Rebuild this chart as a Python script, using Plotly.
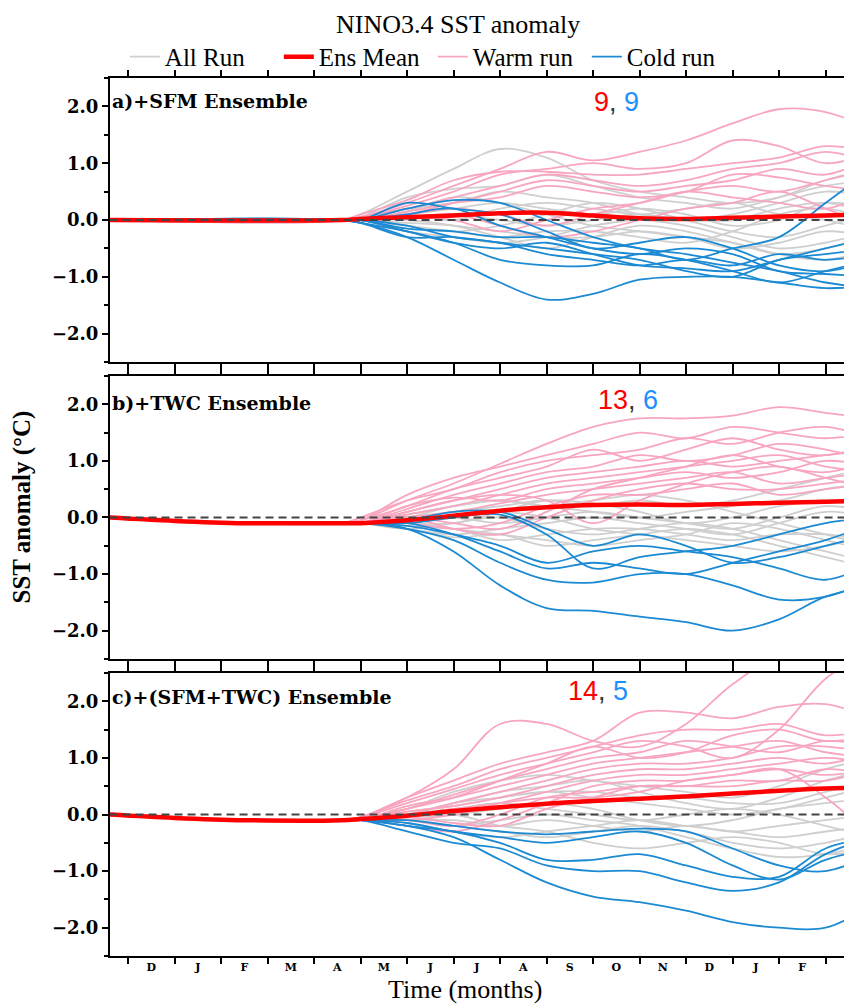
import plotly.graph_objects as go

# ---------------- data ----------------
MONTHS = ["D", "J", "F", "M", "A", "M", "J", "J", "A", "S", "O", "N", "D", "J", "F"]
MONTH_POS = [0.5, 1.5, 2.5, 3.5, 4.5, 5.5, 6.5, 7.5, 8.5, 9.5, 10.5, 11.5, 12.5, 13.5, 14.5]
MONTH_EDGES = list(range(0, 16))

X_PRE_A = [-0.4, 4.6]
PRE_A = [0.0, 0.0]
X_PRE_BC = [-0.4, 1.0, 2.5, 4.6]
PRE_BC = [0.0, -0.06, -0.1, -0.1]
X_RUN = [5, 6, 7, 8, 9, 10, 11, 12, 13, 14, 15, 16]

# panel a) +SFM Ensemble
WARM_A = [
    [0.05, 0.3, 0.6, 0.9, 1.2, 1.05, 1.2, 1.4, 1.7, 1.95, 1.9, 1.6],
    [0.05, 0.25, 0.5, 0.8, 0.9, 1.0, 0.9, 1.0, 1.4, 1.3, 1.0, 1.2],
    [0.1, 0.35, 0.7, 0.85, 0.85, 0.8, 0.8, 0.9, 1.0, 1.1, 1.3, 1.2],
    [0.05, 0.2, 0.4, 0.6, 0.8, 0.7, 0.6, 0.7, 0.9, 1.0, 1.2, 1.0],
    [0.0, 0.1, 0.3, 0.5, 0.7, 0.6, 0.5, 0.6, 0.7, 0.9, 0.8, 1.1],
    [0.0, 0.15, 0.3, 0.4, 0.6, 0.5, 0.4, 0.5, 0.8, 0.75, 0.6, 0.5],
    [0.0, 0.05, 0.0, -0.2, 0.0, 0.2, 0.3, 0.5, 0.6, 0.5, 0.7, 0.9],
    [0.0, 0.1, 0.2, 0.1, -0.1, 0.1, 0.3, 0.5, 0.4, 0.3, 0.2, 0.5],
    [0.0, 0.05, 0.1, -0.1, -0.3, -0.2, 0.0, 0.2, 0.3, 0.5, 0.2, -0.1],
]
COLD_A = [
    [-0.05, -0.3, -0.7, -1.1, -1.4, -1.3, -1.05, -1.0, -1.0, -1.1, -1.2, -1.15],
    [-0.05, -0.2, -0.4, -0.7, -0.8, -0.8, -0.6, -0.7, -0.9, -1.1, -0.9, -0.7],
    [0.0, 0.2, 0.35, 0.3, 0.0, -0.3, -0.5, -0.6, -0.75, -0.9, -1.1, -1.2],
    [0.0, 0.3, 0.2, 0.1, -0.2, -0.5, -0.4, -0.3, -0.5, -0.8, -0.9, -0.7],
    [-0.05, -0.3, -0.3, -0.4, -0.5, -0.6, -0.7, -0.9, -1.0, -0.7, -0.6, -0.5],
    [0.0, -0.15, -0.2, -0.3, -0.3, -0.4, -0.5, -0.7, -0.5, -0.3, 0.3, 0.9],
    [0.0, -0.2, -0.4, -0.5, -0.4, -0.6, -0.8, -0.85, -0.9, -0.7, -0.5, -0.3],
    [0.0, 0.1, 0.2, -0.1, -0.3, -0.5, -0.6, -0.5, -0.6, -0.9, -0.95, -1.0],
    [0.0, -0.1, -0.3, -0.4, -0.6, -0.7, -0.8, -0.7, -0.8, -0.6, -0.7, -0.6],
]
ALL_A = [
    [0.1, 0.5, 0.9, 1.25, 1.1, 0.7, 0.5, 0.4, 0.3, 0.4, 0.7, 0.9],
    [0.05, 0.4, 0.55, 0.6, 0.8, 0.6, 0.4, 0.3, 0.2, 0.4, 0.6, 0.7],
    [0.0, 0.2, 0.3, 0.5, 0.4, 0.3, 0.1, 0.0, 0.1, 0.3, 0.5, 0.4],
    [0.0, 0.1, 0.2, 0.3, 0.2, 0.1, 0.2, 0.1, -0.1, 0.0, 0.3, 0.2],
    [0.0, -0.1, -0.2, -0.1, 0.1, 0.3, 0.2, 0.0, -0.2, -0.3, -0.1, 0.1],
    [0.0, -0.2, -0.3, -0.4, -0.3, -0.1, 0.0, -0.1, -0.3, -0.5, -0.4, -0.2],
    [0.0, 0.0, -0.1, -0.3, -0.5, -0.3, -0.1, -0.2, -0.4, -0.6, -0.5, -0.3],
    [0.0, 0.1, 0.0, 0.2, 0.3, 0.2, 0.1, 0.2, 0.3, 0.1, 0.0, -0.2],
    [0.0, -0.1, -0.2, -0.3, -0.2, -0.2, -0.3, -0.4, -0.2, 0.1, 0.2, 0.0],
    [0.0, 0.15, 0.4, 0.3, 0.1, -0.1, -0.2, -0.3, -0.4, -0.6, -0.7, -0.5],
    [0.0, 0.05, 0.1, 0.0, -0.1, 0.0, 0.1, 0.0, 0.0, 0.2, 0.3, 0.1],
    [0.0, -0.05, -0.1, -0.2, -0.3, -0.3, -0.2, -0.3, -0.5, -0.4, -0.2, -0.3],
]
MEAN_A = [0.02, 0.05, 0.08, 0.12, 0.13, 0.08, 0.03, 0.02, 0.04, 0.06, 0.08, 0.1]

# panel b) +TWC Ensemble
WARM_B = [
    [-0.05, 0.3, 0.6, 0.95, 1.3, 1.6, 1.75, 1.75, 1.8, 1.95, 1.85, 1.75],
    [-0.05, 0.4, 0.7, 0.9, 1.1, 1.3, 1.5, 1.4, 1.6, 1.5, 1.4, 1.5],
    [0.0, 0.3, 0.5, 0.8, 1.0, 1.1, 1.2, 1.4, 1.3, 1.5, 1.6, 1.4],
    [-0.05, 0.2, 0.5, 0.7, 0.9, 1.2, 1.0, 1.2, 1.4, 1.2, 1.1, 1.3],
    [-0.1, 0.15, 0.4, 0.6, 0.8, 0.9, 1.1, 1.0, 1.1, 1.3, 1.2, 1.0],
    [-0.1, 0.1, 0.3, 0.5, 0.7, 0.8, 0.9, 1.0, 0.9, 1.0, 1.1, 1.2],
    [-0.1, 0.05, 0.2, 0.4, 0.6, 0.7, 0.8, 0.9, 1.0, 1.1, 0.9, 0.8],
    [-0.1, 0.2, 0.35, 0.3, 0.5, 0.6, 0.7, 0.8, 0.7, 0.8, 1.0, 0.9],
    [-0.1, 0.0, 0.1, 0.25, 0.4, 0.5, 0.6, 0.7, 0.8, 0.6, 0.7, 0.8],
    [-0.1, 0.0, -0.2, -0.3, 0.0, 0.3, 0.5, 0.6, 0.5, 0.5, 0.6, 0.7],
    [-0.1, -0.1, -0.2, -0.1, 0.2, 0.4, 0.4, 0.5, 0.6, 0.4, 0.5, 0.6],
    [-0.1, 0.1, 0.3, 0.4, 0.3, -0.1, 0.3, 0.6, 0.8, 0.9, 0.7, 0.5],
    [-0.1, 0.0, -0.1, -0.2, 0.1, 0.5, 0.7, 0.9, 1.1, 0.9, 0.8, 1.0],
]
COLD_B = [
    [-0.1, -0.2, -0.6, -1.2, -1.6, -1.65, -1.75, -1.85, -2.0, -1.8, -1.4, -1.2],
    [-0.1, -0.2, -0.4, -0.8, -1.1, -1.15, -1.0, -1.0, -1.2, -1.45, -1.4, -1.1],
    [-0.1, -0.1, -0.3, -0.6, -0.9, -0.8, -0.9, -1.0, -0.8, -0.6, -0.4, -0.1],
    [-0.1, -0.15, -0.3, -0.5, -0.8, -0.6, -0.5, -0.6, -0.7, -0.9, -1.1, -0.8],
    [-0.1, -0.1, 0.0, 0.05, -0.3, -0.9, -0.7, -0.6, -0.5, -0.3, -0.1, 0.0],
    [-0.1, -0.05, 0.1, 0.1, -0.2, -0.5, -0.3, -0.5, -0.8, -0.7, -0.5, -0.3],
]
ALL_B = [
    [-0.1, 0.0, 0.1, 0.2, 0.3, 0.2, 0.3, 0.2, 0.3, 0.5, 0.7, 0.9],
    [-0.1, 0.05, 0.2, 0.3, 0.2, 0.1, 0.0, 0.1, 0.2, 0.3, 0.5, 0.6],
    [-0.1, -0.1, -0.1, 0.1, 0.3, 0.25, 0.1, -0.1, 0.0, 0.2, 0.3, 0.2],
    [-0.1, -0.2, -0.3, -0.2, -0.1, 0.0, -0.1, -0.2, -0.3, -0.1, 0.1, 0.0],
    [-0.1, -0.15, -0.2, -0.4, -0.3, -0.2, -0.2, -0.3, -0.4, -0.3, -0.3, -0.4],
    [-0.1, -0.2, -0.35, -0.3, -0.5, -0.4, -0.3, -0.2, -0.3, -0.5, -0.7, -0.9],
    [-0.1, -0.1, -0.2, -0.3, -0.4, -0.5, -0.4, -0.3, -0.1, -0.2, -0.4, -0.6],
    [-0.1, 0.0, 0.0, -0.1, 0.0, 0.1, 0.0, -0.1, -0.2, 0.0, 0.2, 0.1],
    [-0.1, -0.1, 0.0, 0.1, 0.0, -0.2, -0.3, -0.4, -0.5, -0.6, -0.5, -0.3],
    [-0.1, 0.0, 0.2, 0.3, 0.2, 0.3, 0.4, 0.3, 0.1, -0.1, -0.3, -0.5],
    [-0.1, -0.2, -0.1, 0.0, -0.2, -0.3, -0.2, -0.1, -0.2, -0.4, -0.6, -0.8],
]
MEAN_B = [-0.1, -0.05, 0.03, 0.12, 0.18, 0.22, 0.23, 0.22, 0.24, 0.26, 0.28, 0.3]

# panel c) +(SFM+TWC) Ensemble
WARM_C = [
    [-0.05, 0.3, 0.8, 1.6, 1.6, 1.3, 1.2, 1.6, 2.3, 2.8, 2.9, 2.9],
    [-0.05, 0.3, 0.6, 0.9, 1.1, 1.3, 1.8, 1.8, 1.7, 1.9, 1.95, 1.7],
    [-0.05, 0.25, 0.5, 0.8, 1.0, 1.2, 1.4, 1.5, 1.5, 1.6, 1.4, 1.5],
    [-0.05, 0.2, 0.45, 0.7, 0.9, 1.1, 1.3, 1.2, 1.0, 1.5, 2.4, 2.9],
    [-0.05, 0.1, 0.35, 0.6, 0.8, 1.0, 1.1, 1.3, 1.2, 1.1, 1.3, 1.2],
    [-0.1, 0.15, 0.3, 0.5, 0.7, 0.9, 1.0, 1.1, 1.2, 1.3, 1.1, 1.0],
    [-0.1, 0.0, 0.2, 0.4, 0.6, 0.8, 0.9, 0.9, 1.0, 1.2, 1.2, 1.1],
    [-0.1, 0.05, 0.15, 0.3, 0.5, 0.7, 0.8, 0.8, 0.9, 1.0, 0.9, 1.1],
    [-0.1, -0.1, 0.0, 0.2, 0.4, 0.6, 0.7, 0.7, 0.8, 0.9, 1.0, 0.9],
    [-0.1, -0.2, -0.3, -0.1, 0.2, 0.5, 0.6, 0.6, 0.7, 0.8, 0.7, 0.8],
    [-0.1, -0.1, -0.2, 0.0, 0.3, 0.4, 0.5, 0.5, 0.6, 0.6, 0.8, 0.7],
    [-0.1, 0.0, 0.1, 0.2, 0.3, 0.3, 0.4, 0.6, 0.7, 0.8, 0.3, -0.4],
    [-0.1, -0.05, -0.15, -0.2, 0.1, 0.3, 0.5, 0.5, 0.5, 0.6, 0.6, 0.8],
    [-0.1, 0.1, 0.3, 0.6, 0.9, 1.2, 1.0, 1.1, 1.4, 1.5, 1.3, 1.4],
]
COLD_C = [
    [-0.1, -0.2, -0.4, -0.8, -1.2, -1.45, -1.55, -1.7, -1.9, -2.0, -2.0, -1.6],
    [-0.1, -0.3, -0.5, -0.6, -0.9, -1.0, -1.0, -1.2, -1.35, -1.2, -0.7, -0.4],
    [-0.1, -0.2, -0.3, -0.5, -0.8, -0.8, -0.7, -0.9, -1.1, -1.1, -0.6, -0.4],
    [-0.1, -0.15, -0.3, -0.4, -0.5, -0.4, -0.3, -0.5, -0.9, -1.15, -0.8, -0.6],
    [-0.1, -0.1, -0.2, -0.3, -0.35, -0.3, -0.25, -0.3, -0.6, -0.9, -1.0, -0.7],
]
ALL_C = [
    [-0.1, 0.1, 0.4, 0.6, 0.7, 0.6, 0.5, 0.4, 0.3, 0.5, 0.8, 1.0],
    [-0.1, 0.0, 0.2, 0.4, 0.5, 0.6, 0.4, 0.2, 0.1, 0.3, 0.6, 0.8],
    [-0.1, 0.05, 0.15, 0.3, 0.4, 0.3, 0.2, 0.1, 0.0, 0.1, 0.3, 0.5],
    [-0.1, -0.05, 0.0, 0.1, 0.2, 0.1, -0.1, -0.2, -0.1, 0.1, 0.2, 0.3],
    [-0.1, -0.1, -0.1, -0.2, -0.1, -0.2, -0.3, -0.2, -0.3, -0.2, -0.1, 0.0],
    [-0.1, -0.1, -0.2, -0.3, -0.4, -0.3, -0.2, -0.3, -0.5, -0.6, -0.5, -0.3],
    [-0.1, -0.05, 0.0, -0.2, -0.3, -0.5, -0.6, -0.5, -0.4, -0.5, -0.7, -0.6],
    [-0.1, 0.0, 0.1, 0.2, 0.1, 0.0, -0.1, 0.0, 0.1, 0.0, -0.2, -0.4],
    [-0.1, -0.1, -0.2, -0.1, 0.0, -0.1, -0.2, -0.4, -0.6, -0.75, -0.7, -0.5],
    [-0.1, 0.0, 0.2, 0.3, 0.4, 0.4, 0.3, 0.3, 0.2, 0.2, 0.4, 0.6],
    [-0.1, -0.15, -0.3, -0.4, -0.3, -0.2, -0.1, -0.2, -0.3, -0.4, -0.3, -0.2],
]
MEAN_C = [-0.08, -0.02, 0.06, 0.13, 0.19, 0.24, 0.28, 0.32, 0.37, 0.42, 0.46, 0.48]

PANEL_TITLES = ["a)+SFM Ensemble", "b)+TWC Ensemble", "c)+(SFM+TWC) Ensemble"]
COUNTS = [(9, 9), (13, 6), (14, 5)]

# ---------------- styling ----------------
C_ALL = "#CFCFCF"
C_WARM = "#F8A6BF"
C_COLD = "#1B8AD3"
C_MEAN = "#FF0000"
SERIF = "Liberation Serif"
WIDE = "DejaVu Serif"

fig = go.Figure()

panels = [
    (X_PRE_A, PRE_A, ALL_A, WARM_A, COLD_A, MEAN_A),
    (X_PRE_BC, PRE_BC, ALL_B, WARM_B, COLD_B, MEAN_B),
    (X_PRE_BC, PRE_BC, ALL_C, WARM_C, COLD_C, MEAN_C),
]

for i, (xpre, ypre, alls, warms, colds, mean) in enumerate(panels):
    xa = "x" if i == 0 else f"x{i+1}"
    ya = "y" if i == 0 else f"y{i+1}"
    xs = xpre + X_RUN
    groups = [
        (alls, C_ALL, 1.8, "All Run", 1),
        (warms, C_WARM, 1.8, "Warm run", 3),
        (colds, C_COLD, 1.8, "Cold run", 4),
    ]
    for vals_list, col, w, name, rank in groups:
        for k, vals in enumerate(vals_list):
            fig.add_trace(go.Scatter(
                x=xs, y=ypre + vals, mode="lines",
                line=dict(color=col, width=w, shape="spline", smoothing=1.0),
                name=name, legendrank=rank,
                showlegend=(i == 0 and k == 0),
                xaxis=xa, yaxis=ya, hoverinfo="skip"))
    fig.add_trace(go.Scatter(
        x=xs, y=ypre + mean, mode="lines",
        line=dict(color=C_MEAN, width=4.5, shape="spline", smoothing=1.0),
        name="Ens Mean", legendrank=2, showlegend=(i == 0),
        xaxis=xa, yaxis=ya, hoverinfo="skip"))
    fig.add_trace(go.Scatter(
        x=[-0.4, 16], y=[0, 0], mode="lines",
        line=dict(color="#444444", width=2, dash="8px,5px"),
        showlegend=False, xaxis=xa, yaxis=ya, hoverinfo="skip"))

# ---------------- axes ----------------
domains = [[0.6765, 1.0], [0.3383, 0.6606], [0.0, 0.3223]]
YT = [-2, -1, 0, 1, 2]
YL = ["\u22122.0", "\u22121.0", "0.0", "1.0", "2.0"]

for i in range(3):
    xk = "xaxis" if i == 0 else f"xaxis{i+1}"
    yk = "yaxis" if i == 0 else f"yaxis{i+1}"
    yref = "y" if i == 0 else f"y{i+1}"
    xref = "x" if i == 0 else f"x{i+1}"
    fig.layout[xk] = dict(
        domain=[0, 1], anchor=yref, range=[-0.39, 15.57],
        showline=True, linecolor="black", linewidth=2, mirror="ticks",
        showgrid=False, zeroline=False,
        tickmode="array", tickvals=MONTH_POS, ticktext=MONTHS,
        ticks="outside", ticklen=0, tickcolor="black",
        showticklabels=(i == 2),
        tickfont=dict(family=WIDE, size=11, color="black", weight="bold"),
        minor=dict(tickmode="array", tickvals=MONTH_EDGES, ticks="outside",
                   ticklen=6, tickwidth=1.5, tickcolor="black", showgrid=False),
    )
    fig.layout[yk] = dict(
        domain=domains[i], anchor=xref, range=[-2.5, 2.5],
        showline=True, linecolor="black", linewidth=2, mirror=False,
        showgrid=False, zeroline=False,
        tickmode="array", tickvals=YT, ticktext=YL,
        ticks="outside", ticklen=6, tickwidth=1.5, tickcolor="black",
        tickfont=dict(family=WIDE, size=18, color="black", weight="bold"),
        minor=dict(dtick=0.5, tick0=0, ticks="outside", ticklen=4,
                   tickwidth=1.5, tickcolor="black", showgrid=False),
    )

# ---------------- annotations ----------------
ann = []
label_y = [2.09, 2.02, 2.07]
count_pos = [(10.5, 2.07), (10.75, 2.07), (10.1, 2.19)]
for i in range(3):
    xref = "x" if i == 0 else f"x{i+1}"
    yref = "y" if i == 0 else f"y{i+1}"
    ann.append(dict(x=-0.39, y=label_y[i], xref=xref, yref=yref,
                    text=PANEL_TITLES[i], showarrow=False, xanchor="left",
                    yanchor="middle",
                    font=dict(family=WIDE, size=19, color="black", weight="bold")))
    w, c = COUNTS[i]
    ann.append(dict(x=count_pos[i][0], y=count_pos[i][1], xref=xref, yref=yref,
                    text=(f"<span style='color:{C_MEAN}'>{w}</span>"
                          f"<span style='color:#333333'>, </span>"
                          f"<span style='color:#1E8FFF'>{c}</span>"),
                    showarrow=False, xanchor="center", yanchor="middle",
                    font=dict(family="Liberation Sans", size=27)))

# the page adds an 8px body margin; figure coordinates are page - 8
ann.append(dict(x=0.469, y=1.0604, xref="paper", yref="paper",
                text="NINO3.4 SST anomaly", showarrow=False,
                xanchor="center", yanchor="middle",
                font=dict(family=SERIF, size=26, color="black")))
ann.append(dict(x=0.478, y=-0.0387, xref="paper", yref="paper",
                text="Time (months)", showarrow=False,
                xanchor="center", yanchor="middle",
                font=dict(family=SERIF, size=26, color="black")))
ann.append(dict(x=-0.1186, y=0.512, xref="paper", yref="paper",
                text="SST anomaly (\u00b0C)", showarrow=False, textangle=-90,
                xanchor="center", yanchor="middle",
                font=dict(family=SERIF, size=25, color="black", weight="bold")))

fig.update_layout(
    width=844, height=1000,
    margin=dict(l=102, r=0, t=70, b=52),
    paper_bgcolor="white", plot_bgcolor="white",
    annotations=ann,
    showlegend=True,
    legend=dict(orientation="h", x=0.02, xanchor="left", y=1.024,
                yanchor="middle", bgcolor="rgba(0,0,0,0)",
                font=dict(family=SERIF, size=25, color="black"),
                traceorder="normal", itemwidth=30, tracegroupgap=0,
                entrywidth=109, entrywidthmode="pixels"),
)

fig.write_html("out.html")
